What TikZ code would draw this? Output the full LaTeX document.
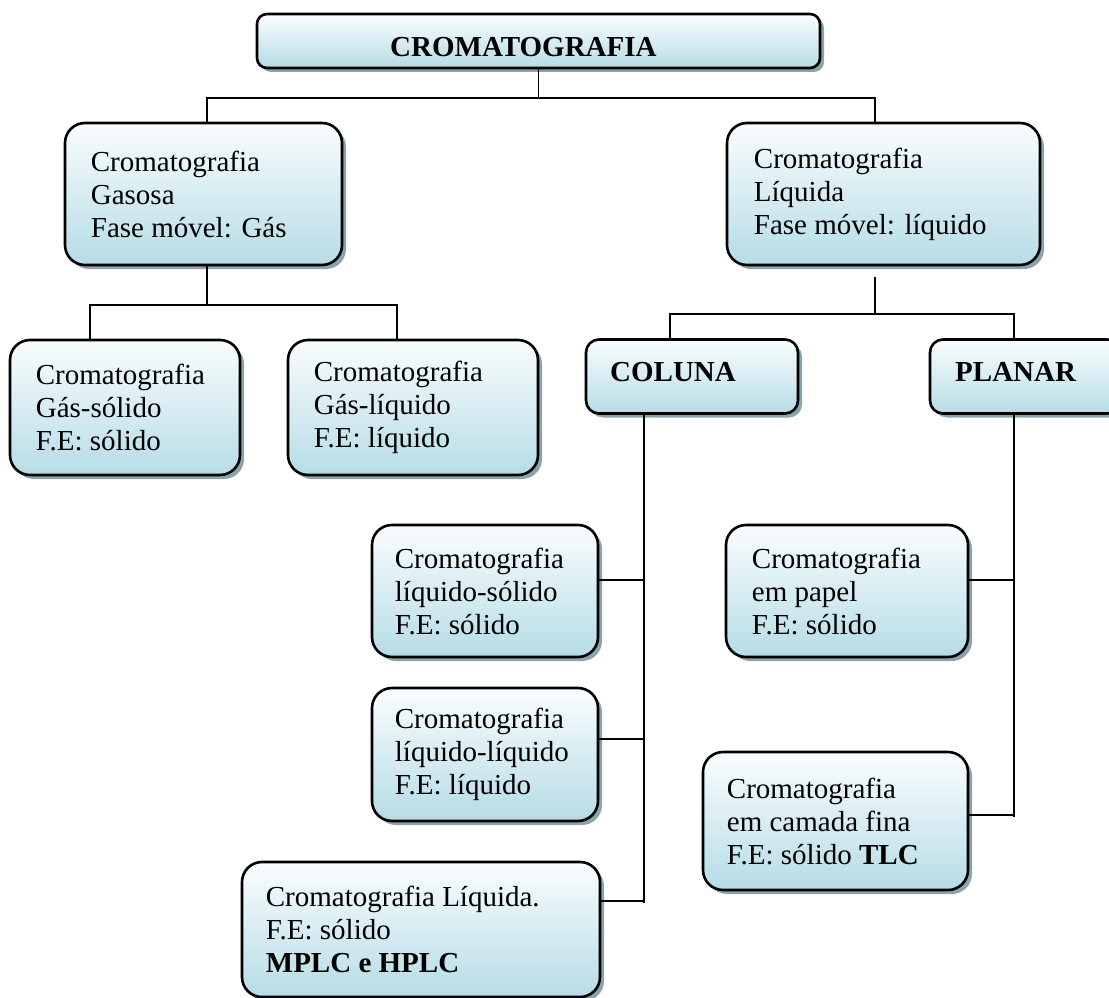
\documentclass[tikz,border=0pt]{standalone}
\usepackage{fontspec}
\setmainfont{Liberation Serif}
\usetikzlibrary{shadows,calc}
\definecolor{boxtop}{RGB}{250,253,254}
\definecolor{boxbot}{RGB}{182,220,230}
\definecolor{shadowc}{RGB}{140,163,172}
\tikzset{
  box/.style={draw=black, line width=2.6pt, rounded corners=20pt,
    top color=boxtop, bottom color=boxbot,
    drop shadow={shadow xshift=4pt, shadow yshift=-4pt, fill=shadowc, opacity=1},
    inner sep=0pt},
  smallbox/.style={box, rounded corners=13pt},
  titlebox/.style={box, rounded corners=10pt},
  txt/.style={anchor=west, align=left, inner sep=0pt, font=\fontsize{29}{33}\selectfont},
  btxt/.style={txt, font=\bfseries\fontsize{29}{33}\selectfont},
  conn/.style={line width=1.4pt, draw=black},
}
\begin{document}
\begin{tikzpicture}[x=1pt,y=-1pt]
\useasboundingbox (0,0) rectangle (1109,998);

% boxes
\node[titlebox, minimum width=563pt, minimum height=54pt] (title) at (538.5,41) {};
\node[btxt] (titlet) at (390,47) {CROMATOGRAFIA};

\node[box, minimum width=277pt, minimum height=142pt] (gas) at (203.5,194) {};
\node[txt] (gast) at ([xshift=27pt]gas.west) {Cromatografia\\Gasosa\\Fase móvel: Gás};

\node[box, minimum width=313pt, minimum height=142pt] (liq) at (883.5,194) {};
\node[txt] (liqt) at ([xshift=28pt]liq.west) {Cromatografia\\Líquida\\Fase móvel: líquido};

\node[box, minimum width=230pt, minimum height=135pt] (gs) at (125,407.5) {};
\node[txt] (gst) at ([xshift=27pt]gs.west) {Cromatografia\\Gás-sólido\\F.E: sólido};

\node[box, minimum width=250pt, minimum height=135pt] (gl) at (413,407.5) {};
\node[txt] (glt) at ([xshift=27pt]gl.west) {Cromatografia\\Gás-líquido\\F.E: líquido};

\node[smallbox, minimum width=212pt, minimum height=74pt] (col) at (692,376.5) {};
\node[btxt] (colt) at (610,372) {COLUNA};

\node[smallbox, minimum width=190pt, minimum height=74pt] (pla) at (1025,376.5) {};
\node[btxt] (plat) at (955,372) {PLANAR};

\node[box, minimum width=226pt, minimum height=132pt] (ls) at (485,591) {};
\node[txt] (lst) at ([xshift=24pt]ls.west) {Cromatografia\\líquido-sólido\\F.E: sólido};

\node[box, minimum width=226pt, minimum height=133pt] (ll) at (485,754.5) {};
\node[txt] (llt) at ([xshift=24pt]ll.west) {Cromatografia\\líquido-líquido\\F.E: líquido};

\node[box, minimum width=358pt, minimum height=135pt] (mplc) at (421,929.5) {};
\node[txt] (mplct) at ([xshift=25pt]mplc.west) {Cromatografia Líquida.\\F.E: sólido\\\textbf{MPLC e HPLC}};

\node[box, minimum width=242pt, minimum height=132pt] (pap) at (847,591) {};
\node[txt] (papt) at ([xshift=27pt]pap.west) {Cromatografia\\em papel\\F.E: sólido};

\node[box, minimum width=265pt, minimum height=138pt] (tlc) at (835.5,821) {};
\node[txt] (tlct) at ([xshift=25pt]tlc.west) {Cromatografia\\em camada fina\\F.E: sólido \textbf{TLC}};

% junction coordinates
\coordinate (jT) at (538.5,98);
\coordinate (jGl) at (207,98);
\coordinate (jLr) at (875,98);
\coordinate (jG) at (207,305);
\coordinate (jGs) at (90,305);
\coordinate (jGg) at (397,305);
\coordinate (jLt) at (875,277);
\coordinate (jL) at (875,314);
\coordinate (jLc) at (670,314);
\coordinate (jLp) at (1014,314);
\coordinate (cA) at (644,580);
\coordinate (cB) at (644,739);
\coordinate (cC) at (644,901);
\coordinate (cEnd) at (644,903);
\coordinate (pA) at (1014,580);
\coordinate (pB) at (1014,815);
\coordinate (pEnd) at (1014,817);

% connectors
\draw[conn] (title.south) -- (jT);
\draw[conn] (gas.north -| jGl) -- (jGl) -- (jLr) -- (liq.north -| jLr);
\draw[conn] (gas.south -| jG) -- (jG);
\draw[conn] (gs.north -| jGs) -- (jGs) -- (jGg) -- (gl.north -| jGg);
\draw[conn] (jLt) -- (jL);
\draw[conn] (col.north -| jLc) -- (jLc) -- (jLp) -- (pla.north -| jLp);
\draw[conn] (col.south -| cEnd) -- (cEnd);
\draw[conn] (ls.east |- cA) -- (cA);
\draw[conn] (ll.east |- cB) -- (cB);
\draw[conn] (mplc.east |- cC) -- (cC);
\draw[conn] (pla.south -| pEnd) -- (pEnd);
\draw[conn] (pap.east |- pA) -- (pA);
\draw[conn] (tlc.east |- pB) -- (pB);
\end{tikzpicture}
\end{document}
